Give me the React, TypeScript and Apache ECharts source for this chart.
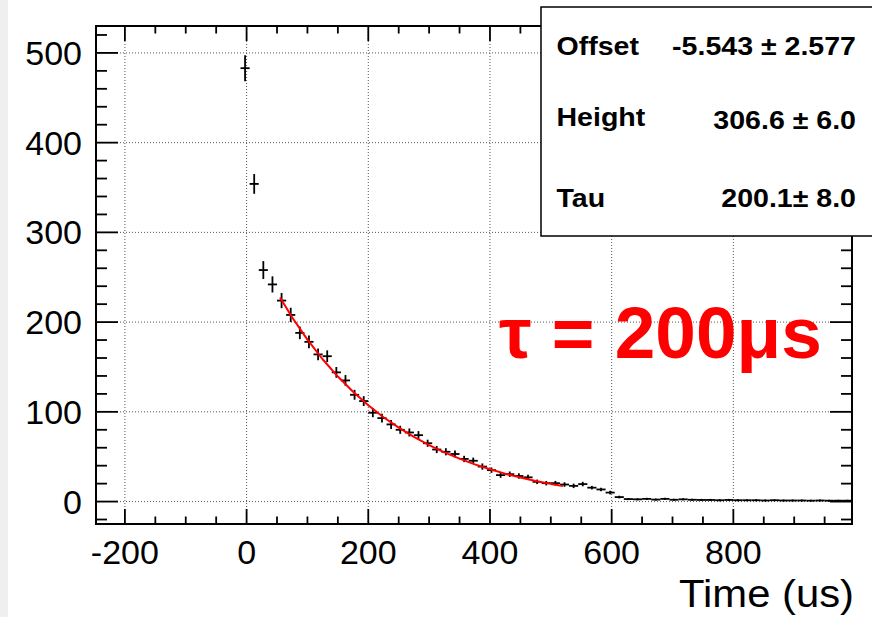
import React, { useEffect, useRef } from "react";
import * as echarts from "echarts";

// Histogram bin centres (us)
const binCenters = [
  -2.5, 12.5, 27.5, 42.5, 57.5, 72.5, 87.5, 102.5, 117.5, 132.5, 147.5, 162.5,
  177.5, 192.5, 207.5, 222.5, 237.5, 252.5, 267.5, 282.5, 297.5, 312.5, 327.5,
  342.5, 357.5, 372.5, 387.5, 402.5, 417.5, 432.5, 447.5, 462.5, 477.5, 492.5,
  507.5, 522.5, 537.5, 552.5, 567.5, 582.5, 597.5, 612.5, 627.5, 642.5, 657.5,
  672.5, 687.5, 702.5, 717.5, 732.5, 747.5, 762.5, 777.5, 792.5, 807.5, 822.5,
  837.5, 852.5, 867.5, 882.5, 897.5, 912.5, 927.5, 942.5, 957.5, 972.5, 987.5,
];
// Bin contents
const counts = [
  483, 354, 258, 242, 224, 208, 188, 178, 164, 162, 144, 135, 119, 112, 99, 93,
  86, 80, 77, 74, 65, 58, 55.5, 53, 47.5, 45.5, 39, 35, 29.5, 30.5, 28.5, 27,
  22, 20.5, 20.5, 19, 17.5, 19.5, 15.5, 13.5, 10, 5, 2.8, 2.5, 3, 2.2, 3, 2,
  2.5, 2, 1.8, 1.8, 1.5, 1.8, 1.5, 1.5, 1.5, 1.2, 1.5, 1.2, 1.2, 1.2, 1, 1.2,
  1, 1, 1,
];
// Vertical error bars (half length)
const errors = [
  14.5, 11, 10, 9, 8.5, 8, 7, 7, 6.5, 6.5, 6, 6, 5.5, 5.5, 5, 5, 5, 4.5, 4.5,
  4.5, 4, 4, 4, 4, 3.5, 3.5, 3.5, 3, 3, 3, 3, 3, 2.5, 2.5, 2.5, 2.5, 2.5, 2.5,
  2, 2, 2, 1.5, 1.2, 1.2, 1.2, 1.2, 1.2, 1.2, 1.2, 1.2, 1.2, 1.2, 1.2, 1.2,
  1.2, 1.2, 1.2, 1.1, 1.1, 1.1, 1.1, 1.1, 1, 1, 1, 1, 1,
];
const binHalfWidth = 7.5;

// Fitted curve
const fitX = [55, 75, 100, 125, 150, 175, 200, 225, 250, 275, 300, 325, 350, 375, 400, 425, 450, 475, 500, 520];
const fitY = [227.4, 205.2, 180.5, 158.6, 139.3, 122.3, 107.3, 94.0, 82.4, 72.0, 62.9, 54.9, 47.8, 41.5, 36.0, 31.1, 26.8, 23.0, 19.7, 17.3];

// Axes
const xTickLabels = [-200, 0, 200, 400, 600, 800];
const yTickLabels = [0, 100, 200, 300, 400, 500];
const xTicks = [-200, -150, -100, -50, 0, 50, 100, 150, 200, 250, 300, 350, 400, 450, 500, 550, 600, 650, 700, 750, 800, 850, 900, 950];
const yTicks = [-20, 0, 20, 40, 60, 80, 100, 120, 140, 160, 180, 200, 220, 240, 260, 280, 300, 320, 340, 360, 380, 400, 420, 440, 460, 480, 500, 520];
const xMin = -247.5;
const xMax = 995;
const yMin = -25;
const yMax = 530;
const xTitle = "Time (us)";

// Stats box
const statNames = ["Offset", "Height", "Tau"];
const statValues = ["-5.543 ± 2.577", "306.6 ± 6.0", "200.1± 8.0"];
const annotation = "τ = 200μs";

export default function App() {
  const ref = useRef<HTMLDivElement>(null);

  useEffect(() => {
    if (!ref.current) return;
    const chart = echarts.init(ref.current, null, { renderer: "svg" });
    const FONT = '"Liberation Sans", Arial, Helvetica, sans-serif';

    const points = binCenters.map((x, i) => [x, counts[i], errors[i]]);
    const fit = fitX.map((x, i) => [x, fitY[i]]);
    const xTickData = xTicks.map((v) => [v, 0, v % 200 === 0 ? 1 : 0]);
    const yTickData = yTicks.map((v) => [0, v, v % 100 === 0 ? 1 : 0]);

    const statGraphics: any[] = [];
    const rowY = [46, 117, 198.5];
    const valY = [46, 120, 198.5];
    statNames.forEach((n, i) => {
      statGraphics.push({
        type: "text",
        x: 556.5,
        y: rowY[i],
        scaleX: 1.12,
        z: 101,
        style: { text: n, fontSize: 25.5, fontWeight: "bold", fontFamily: FONT, fill: "#000", align: "left", verticalAlign: "middle" },
      });
      statGraphics.push({
        type: "text",
        x: 856,
        y: valY[i],
        scaleX: 1.12,
        z: 101,
        style: { text: statValues[i], fontSize: 25.5, fontWeight: "bold", fontFamily: FONT, fill: "#000", align: "right", verticalAlign: "middle" },
      });
    });

    const tickStyle = { stroke: "#000", lineWidth: 1.8 };

    chart.setOption({
      animation: false,
      backgroundColor: "#fff",
      grid: {
        left: 96,
        top: 26,
        width: 756,
        height: 498,
        show: true,
        borderColor: "#000",
        borderWidth: 2,
        backgroundColor: "transparent",
        containLabel: false,
      },
      xAxis: {
        type: "value",
        min: xMin,
        max: xMax,
        axisLine: { show: false },
        axisTick: { show: false },
        splitLine: { show: false },
        axisLabel: {
          customValues: xTickLabels,
          fontSize: 34,
          fontFamily: FONT,
          color: "#000",
          margin: 28,
          verticalAlign: "middle",
        },
      },
      yAxis: {
        type: "value",
        min: yMin,
        max: yMax,
        axisLine: { show: false },
        axisTick: { show: false },
        splitLine: { show: false },
        axisLabel: {
          customValues: yTickLabels,
          fontSize: 34,
          fontFamily: FONT,
          color: "#000",
          margin: 14,
          align: "right",
          verticalAlign: "middle",
        },
      },
      series: [
        {
          type: "custom",
          name: "xticks",
          data: xTickData,
          encode: { x: 0, y: 1 },
          clip: false,
          silent: true,
          renderItem: (params: any, api: any) => {
            const v = api.value(0);
            const major = api.value(2) === 1;
            const cs = params.coordSys;
            const px = api.coord([v, 0])[0];
            const top = cs.y;
            const bottom = cs.y + cs.height;
            const len = major ? 15 : 7.5;
            const children: any[] = [];
            if (major) {
              children.push({ type: "line", shape: { x1: px, y1: top, x2: px, y2: bottom }, style: { stroke: "#555", lineWidth: 1, lineDash: [1, 2] } });
            }
            children.push({ type: "line", shape: { x1: px, y1: bottom, x2: px, y2: bottom - len }, style: tickStyle });
            children.push({ type: "line", shape: { x1: px, y1: top, x2: px, y2: top + len }, style: tickStyle });
            return { type: "group", children };
          },
        },
        {
          type: "custom",
          name: "yticks",
          data: yTickData,
          encode: { x: 0, y: 1 },
          clip: false,
          silent: true,
          renderItem: (params: any, api: any) => {
            const v = api.value(1);
            const major = api.value(2) === 1;
            const cs = params.coordSys;
            const py = api.coord([0, v])[1];
            const left = cs.x;
            const right = cs.x + cs.width;
            const len = major ? 22 : 11;
            const children: any[] = [];
            if (major) {
              children.push({ type: "line", shape: { x1: left, y1: py, x2: right, y2: py }, style: { stroke: "#555", lineWidth: 1, lineDash: [1, 2] } });
            }
            children.push({ type: "line", shape: { x1: left, y1: py, x2: left + len, y2: py }, style: tickStyle });
            children.push({ type: "line", shape: { x1: right, y1: py, x2: right - len, y2: py }, style: tickStyle });
            return { type: "group", children };
          },
        },
        {
          type: "custom",
          name: "data",
          data: points,
          encode: { x: 0, y: 1 },
          clip: true,
          silent: true,
          renderItem: (_params: any, api: any) => {
            const x = api.value(0);
            const y = api.value(1);
            const e = api.value(2);
            const l = api.coord([x - binHalfWidth, y]);
            const r = api.coord([x + binHalfWidth, y]);
            const t = api.coord([x, y + e]);
            const b = api.coord([x, y - e]);
            return {
              type: "group",
              children: [
                { type: "line", shape: { x1: l[0], y1: l[1], x2: r[0], y2: r[1] }, style: { stroke: "#000", lineWidth: 1.8 } },
                { type: "line", shape: { x1: t[0], y1: t[1], x2: b[0], y2: b[1] }, style: { stroke: "#000", lineWidth: 1.8 } },
              ],
            };
          },
        },
        {
          type: "line",
          name: "fit",
          data: fit,
          showSymbol: false,
          symbol: "none",
          silent: true,
          lineStyle: { color: "#ff0000", width: 2 },
          z: 5,
        },
      ],
      graphic: [
        { type: "rect", x: 0, y: 0, z: 0, shape: { width: 8, height: 617 }, style: { fill: "#efefef" } },
        { type: "rect", x: 541, y: 7, z: 100, shape: { width: 345, height: 229 }, style: { fill: "#fff", stroke: "#000", lineWidth: 1.5 } },
        ...statGraphics,
        {
          type: "text",
          x: 499,
          y: 332,
          z: 50,
          style: { text: annotation, fontSize: 73, fontWeight: "bold", fontFamily: FONT, fill: "#ff0000", align: "left", verticalAlign: "middle" },
        },
        {
          type: "text",
          x: 854,
          y: 594,
          scaleX: 1.1,
          z: 50,
          style: { text: xTitle, fontSize: 38, fontFamily: FONT, fill: "#000", align: "right", verticalAlign: "middle" },
        },
      ],
    });

    return () => {
      chart.dispose();
    };
  }, []);

  return (
    <div style={{ position: "fixed", left: 0, top: 0, width: 872, height: 617, background: "#fff" }}>
      <div ref={ref} style={{ width: 872, height: 617 }} />
    </div>
  );
}
